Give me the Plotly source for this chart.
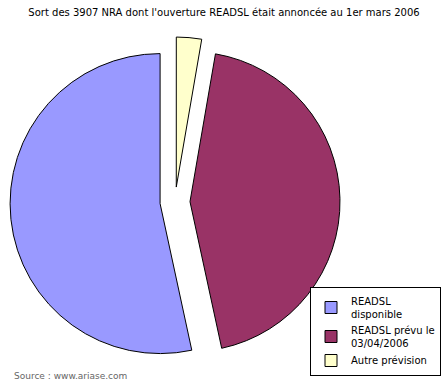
import plotly.graph_objects as go

labels = ["READSL<br>disponible", "READSL prévu le<br>03/04/2006", "Autre prévision"]
values = [2086, 1715, 106]
colors = ["#9999ff", "#993366", "#ffffcc"]

fig = go.Figure(go.Pie(
    labels=labels,
    values=values,
    sort=False,
    direction="counterclockwise",
    rotation=167.8,
    pull=[0.1, 0.1, 0.1],
    marker=dict(colors=colors, line=dict(color="black", width=1)),
    textinfo="none",
    hoverinfo="label+value+percent",
))

fig.update_layout(
    width=448, height=382,
    margin=dict(l=10, r=108, t=37, b=15, autoexpand=False),
    paper_bgcolor="white",
    plot_bgcolor="white",
    title=dict(
        text="Sort des 3907 NRA dont l'ouverture READSL était annoncée au 1er mars 2006",
        x=0.5, xanchor="center", xref="container",
        y=1 - 12/382, yanchor="middle", yref="container",
        font=dict(family="DejaVu Sans", size=10, color="black"),
    ),
    legend=dict(
        xref="container", yref="container",
        x=310/448, y=1 - 287/382, xanchor="left", yanchor="top",
        bordercolor="black", borderwidth=1, bgcolor="white",
        font=dict(family="DejaVu Sans", size=10, color="black"),
        tracegroupgap=0,
        itemwidth=30,
    ),
    annotations=[dict(
        text="Source : www.ariase.com",
        xref="paper", yref="paper",
        x=(12 - 10)/330, y=(367 - 376)/330,
        xanchor="left", yanchor="middle", showarrow=False,
        font=dict(family="DejaVu Sans", size=9, color="#666666"),
    )],
)

fig.write_html(
    "out.html",
    config={"displayModeBar": False},
    post_script="document.body.style.margin='0px';document.body.style.padding='0px';",
)
